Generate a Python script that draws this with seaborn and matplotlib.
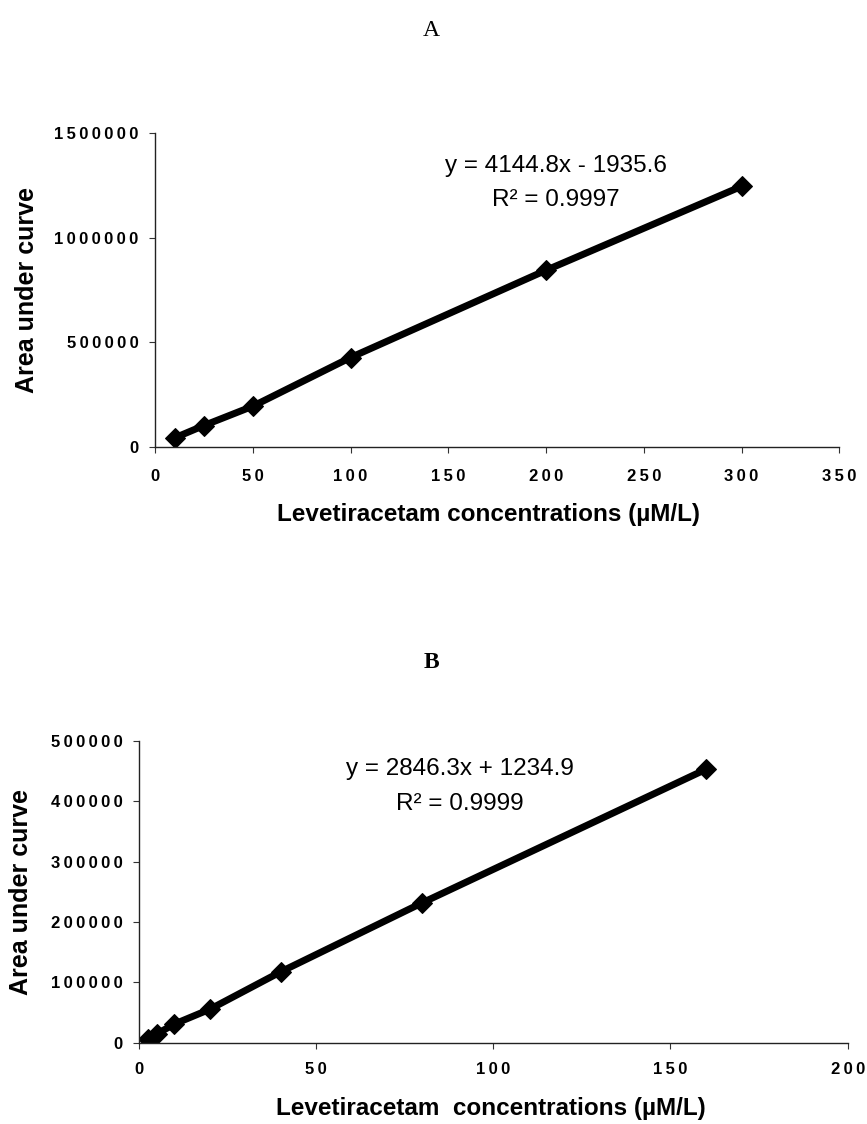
import matplotlib
matplotlib.use("Agg")
import matplotlib.pyplot as plt
import seaborn as sns
import pandas as pd
from matplotlib.ticker import FuncFormatter

# Panel A data
conc_a = [10, 25, 50, 100, 200, 300]
auc_a = [45000, 104000, 196000, 428000, 844000, 1244000]
xticks_a = [0, 50, 100, 150, 200, 250, 300, 350]
yticks_a = [0, 500000, 1000000, 1500000]
eq_a = "y = 4144.8x - 1935.6"
r2_a = "R\u00b2 = 0.9997"

# Panel B data
conc_b = [2.5, 5, 10, 20, 40, 80, 160]
auc_b = [6500, 14500, 31000, 55500, 117500, 232000, 453000]
xticks_b = [0, 50, 100, 150, 200]
yticks_b = [0, 100000, 200000, 300000, 400000, 500000]
eq_b = "y = 2846.3x + 1234.9"
r2_b = "R\u00b2 = 0.9999"

xlabel_a = "Levetiracetam concentrations (\u00b5M/L)"
xlabel_b = "Levetiracetam  concentrations (\u00b5M/L)"
ylabel = "Area under curve"

sns.set_style("ticks")
plt.rcParams['font.family'] = ['Liberation Sans', 'DejaVu Sans']
plt.rcParams['text.color'] = 'black'
plt.rcParams['axes.labelcolor'] = 'black'
plt.rcParams['xtick.color'] = 'black'
plt.rcParams['ytick.color'] = 'black'

fig = plt.figure(figsize=(8.67, 11.24), dpi=100)
ax_a = fig.add_axes([0.1788, 0.602, 0.7892, 0.280])
ax_b = fig.add_axes([0.1603, 0.0723, 0.8174, 0.2685])

def spaced(v, pos):
    return "\u2009".join(str(int(round(v))))

fmt = FuncFormatter(spaced)

def draw(ax, x, y, xt, yt, eq, r2, xlabel, eqpos, ylpad, xpad, xlx):
    df = pd.DataFrame({"x": x, "y": y})
    sns.lineplot(data=df, x="x", y="y", ax=ax, color="black", linewidth=5,
                 marker="D", markersize=10, markeredgecolor="black")
    ax.set_xlim(xt[0], xt[-1])
    ax.set_ylim(yt[0], yt[-1])
    ax.set_xticks(xt)
    ax.set_yticks(yt)
    ax.xaxis.set_major_formatter(fmt)
    ax.yaxis.set_major_formatter(fmt)
    for lab in ax.get_xticklabels() + ax.get_yticklabels():
        lab.set_fontweight("bold")
        lab.set_fontsize(12)
    ax.tick_params(axis="both", direction="out", length=4, width=0.8, color="#333333")
    ax.tick_params(axis="y", pad=8)
    ax.tick_params(axis="x", pad=xpad)
    sns.despine(ax=ax)
    for s in ["left", "bottom"]:
        ax.spines[s].set_linewidth(1.0)
        ax.spines[s].set_color("#222222")
    ax.set_xlabel(xlabel, fontsize=17.5, fontweight="bold", labelpad=14)
    ax.xaxis.label.set_x(xlx)
    ax.set_ylabel(ylabel, fontsize=18, fontweight="bold", labelpad=ylpad)
    ax.text(eqpos[0], eqpos[1], eq, transform=ax.transAxes, ha="center", va="center", fontsize=17.5)
    ax.text(eqpos[0], eqpos[2], r2, transform=ax.transAxes, ha="center", va="center", fontsize=17.5)

draw(ax_a, conc_a, auc_a, xticks_a, yticks_a, eq_a, r2_a, xlabel_a,
     (0.586, 0.894, 0.786), 11, 11.5, 0.487)
draw(ax_b, conc_b, auc_b, xticks_b, yticks_b, eq_b, r2_b, xlabel_b,
     (0.453, 0.908, 0.790), 12.5, 10, 0.497)

fig.text(431 / 867, 1 - 30 / 1124, "A", ha="center", va="center",
         family="Liberation Serif", fontsize=17)
fig.text(431 / 867, 1 - 663 / 1124, "B", ha="center", va="center",
         family="Liberation Serif", fontsize=17, fontweight="bold")

fig.savefig("out.png", dpi=100)
